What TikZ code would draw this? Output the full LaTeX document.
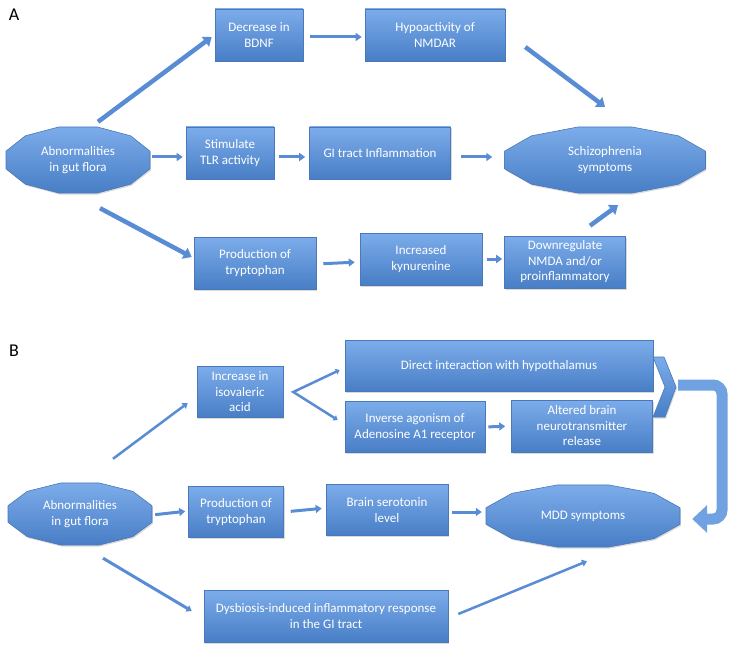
\documentclass[tikz,border=0pt]{standalone}
\usepackage{fontspec}
\setmainfont{Carlito}
\usepackage{tikz}
\usetikzlibrary{arrows.meta,shadows}
\definecolor{boxtop}{RGB}{124,172,234}
\definecolor{boxbot}{RGB}{72,126,198}
\definecolor{boxline}{RGB}{74,120,186}
\definecolor{arrowblue}{RGB}{88,140,212}
\definecolor{turnblue}{RGB}{112,162,226}
\newcommand{\cellfont}{\fontsize{13}{15.5}\selectfont}

\begin{document}
\begin{tikzpicture}[x=1pt,y=-1pt,
    cellfill/.style={draw=boxline, line width=0.6pt, top color=boxtop, bottom color=boxbot,
      drop shadow={opacity=0.3, shadow xshift=1pt, shadow yshift=-1.5pt}},
    cell/.style={cellfill, text=white, font=\cellfont, align=center, inner sep=2pt, minimum height=52pt},
    gut/.style={text=white, font=\cellfont, align=center, inner sep=0pt},
    flow/.style={draw=arrowblue, line width=4.5pt, -{Triangle[length=8pt,width=12pt]}},
    link/.style={draw=arrowblue, line width=3pt, -{Triangle[length=6pt,width=8pt]}},
    thin flow/.style={draw=arrowblue, line width=3pt, -{Triangle[length=5pt,width=7pt]}},
    uturn/.style={draw=turnblue, line width=11pt, rounded corners=9pt, -{Triangle[length=15pt,width=27pt]}},
    panel/.style={font=\fontsize{18}{18}\selectfont}]
  \useasboundingbox (0,0) rectangle (736,647);

  % panel A
  \node[panel] (labA) at (14,15) {A};
  \path[cellfill, shift={(78,160)}] (15:74.5 and 34.2) \foreach \k in {1,...,11} {-- (15+30*\k:74.5 and 34.2)} -- cycle;
  \node[gut, minimum width=144pt, minimum height=66pt] (absA) at (78,160) {Abnormalities\\in gut flora};
  \path[cellfill, shift={(605,160)}] (15:104 and 34.2) \foreach \k in {1,...,11} {-- (15+30*\k:104 and 34.2)} -- cycle;
  \node[gut, minimum width=201pt, minimum height=66pt] (schizo) at (605,160) {Schizophrenia\\symptoms};
  \node[cell, minimum width=88pt] (bdnf) at (259,35) {Decrease in\\BDNF};
  \node[cell, minimum width=140pt] (nmdar) at (435,35) {Hypoactivity of\\NMDAR};
  \node[cell, minimum width=88pt] (tlr) at (230,153) {Stimulate\\TLR activity};
  \node[cell, minimum width=141pt] (gitA) at (380,153) {GI tract Inflammation};
  \node[cell, minimum width=122pt] (trypA) at (255,263) {Production of\\tryptophan};
  \node[cell, minimum width=122pt] (kyn) at (421,259) {Increased\\kynurenine};
  \node[cell, minimum width=121pt] (down) at (565,262) {Downregulate\\NMDA and/or\\proinflammatory};

  \draw[flow] ([xshift=20pt,yshift=5pt]absA.north) -- ([xshift=-3pt,yshift=-2pt]bdnf.west);
  \draw[link, shorten <=7pt, shorten >=3pt] ([yshift=-2pt]bdnf.east) -- ([yshift=-2pt]nmdar.west);
  \draw[flow] ([xshift=20pt,yshift=-12pt]nmdar.east) -- ([yshift=20pt]schizo.north);
  \draw[link, shorten <=2pt, shorten >=3pt] ([yshift=3pt]absA.east) -- ([yshift=-4pt]tlr.west);
  \draw[link, shorten <=5pt, shorten >=4pt] ([yshift=-4pt]tlr.east) -- ([yshift=-4pt]gitA.west);
  \draw[link, shorten <=10pt, shorten >=12pt] ([yshift=-4pt]gitA.east) -- ([yshift=3pt]schizo.west);
  \draw[flow] ([xshift=22pt,yshift=-15pt]absA.south) -- ([xshift=-2pt,yshift=6pt]trypA.west);
  \draw[link, shorten <=7pt, shorten >=5pt] ([yshift=-1pt]trypA.east) -- ([yshift=-3pt]kyn.west);
  \draw[link, shorten <=5pt, shorten >=2pt] (kyn.east) -- ([yshift=3pt]down.west);
  \draw[flow] ([xshift=25pt,yshift=10pt]down.north) -- ([xshift=13pt,yshift=-12pt]schizo.south);

  % panel B
  \node[panel] (labB) at (14,351) {B};
  \path[cellfill, shift={(80,514)}] (15:74.5 and 32.1) \foreach \k in {1,...,11} {-- (15+30*\k:74.5 and 32.1)} -- cycle;
  \node[gut, minimum width=144pt, minimum height=62pt] (absB) at (80,514) {Abnormalities\\in gut flora};
  \path[cellfill, shift={(583,516)}] (15:100.4 and 32.1) \foreach \k in {1,...,11} {-- (15+30*\k:100.4 and 32.1)} -- cycle;
  \node[gut, minimum width=194pt, minimum height=62pt] (mdd) at (583,516) {MDD symptoms};
  \node[cell, minimum width=86pt, minimum height=51pt] (iso) at (240,392) {Increase in\\isovaleric\\acid};
  \node[cell, minimum width=308pt, minimum height=51pt] (hypo) at (499,366) {Direct interaction with hypothalamus};
  \node[cell, minimum width=140pt, minimum height=51pt] (inverse) at (415,427) {Inverse agonism of\\Adenosine A1 receptor};
  \node[cell, minimum width=141pt] (altered) at (582,426) {Altered brain\\neurotransmitter\\release};
  \node[cell, minimum width=95pt, minimum height=51pt] (trypB) at (236,512) {Production of\\tryptophan};
  \node[cell, minimum width=122pt, minimum height=51pt] (sero) at (387,510) {Brain serotonin\\level};
  \node[cell, minimum width=244pt] (dys) at (326,616) {Dysbiosis-induced inflammatory response\\in the GI tract};

  \draw[thin flow, line width=2.5pt] ([xshift=33pt,yshift=24pt]absB.north) -- ([xshift=-9pt,yshift=-11pt]iso.west);
  \draw[thin flow, line width=2.5pt, {Triangle[length=4pt,width=6pt]}-{Triangle[length=4pt,width=6pt]}]
    ([xshift=-5pt,yshift=-4pt]hypo.west) -- ([xshift=10pt]iso.east) -- ([xshift=-7pt,yshift=7pt]inverse.west);
  \draw[link, shorten <=3pt, shorten >=6pt] (inverse.east) -- (altered.west);
  \draw[link, shorten <=3pt, shorten >=3pt] ([yshift=-1pt]absB.east) -- ([yshift=1pt]trypB.west);
  \draw[link, shorten <=7pt, shorten >=4pt] (trypB.east) -- ([yshift=2pt]sero.west);
  \draw[link, shorten <=4pt, shorten >=4pt] ([yshift=-2pt]sero.east) -- ([yshift=4pt]mdd.west);
  \draw[thin flow] ([xshift=23pt,yshift=-13pt]absB.south) -- ([xshift=-12pt,yshift=5pt]dys.west);
  \draw[thin flow, line width=2.5pt] ([xshift=10pt,yshift=2pt]dys.east) -- ([xshift=4pt,yshift=-14pt]mdd.south);

  % merge of the two upper paths into MDD
  \path[cellfill] (653,357) -- (664,357) -- (676,387) -- (665,417) -- (653,417) -- (665,387) -- cycle;
  \coordinate (turn) at (678,385);
  \draw[uturn] (turn) -- (722,385) -- (722,519) -- ([xshift=12pt,yshift=-3pt]mdd.east);
\end{tikzpicture}
\end{document}
